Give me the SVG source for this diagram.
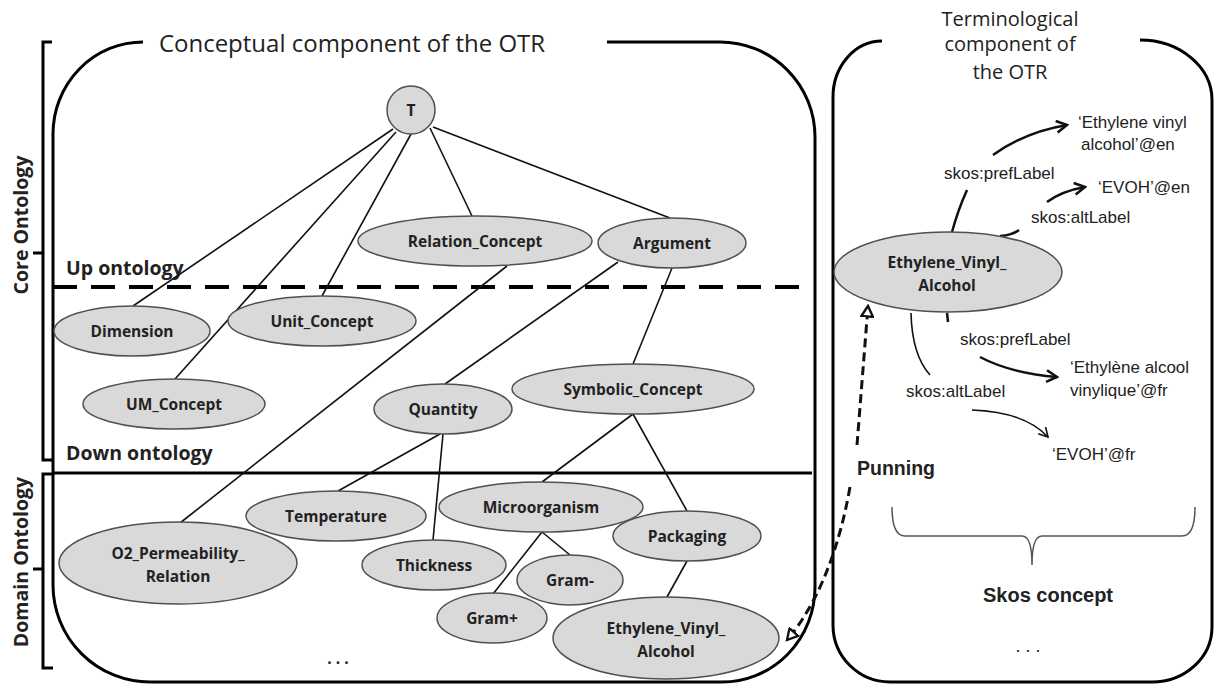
<svg xmlns="http://www.w3.org/2000/svg" width="1214" height="684" viewBox="0 0 1214 684">
<defs>
<style>
.box{fill:none;stroke:#000;stroke-width:3}
.nd{fill:#d9d9d9;stroke:#505050;stroke-width:1.5}
.nt{font-family:"Open Sans","Liberation Sans",sans-serif;font-weight:bold;font-size:15.5px;fill:#222;text-anchor:middle}
.ttl{font-family:"Open Sans","Liberation Sans",sans-serif;fill:#222}
.lvl{font-family:"Open Sans","Liberation Sans",sans-serif;font-weight:bold;font-size:19.5px;fill:#222}
.lb{font-family:"Liberation Sans",Arial,sans-serif;font-size:17px;fill:#222}
.edge{stroke:#111;stroke-width:1.6;fill:none}
.arr{stroke:#111;stroke-width:2.5;fill:none}
.pun{stroke:#111;stroke-width:3;fill:none;stroke-dasharray:9 5}
</style>
<marker id="ah" viewBox="0 0 12 12" refX="10" refY="6" markerWidth="14" markerHeight="14" markerUnits="userSpaceOnUse" orient="auto">
<path d="M1,1 L10,6 L1,11" fill="none" stroke="#111" stroke-width="2.2"/>
</marker>
<marker id="ah2" viewBox="0 0 12 12" refX="10" refY="6" markerWidth="12" markerHeight="12" markerUnits="userSpaceOnUse" orient="auto">
<path d="M1,1 L10,6 L1,11" fill="none" stroke="#111" stroke-width="1.6"/>
</marker>
<marker id="ahp" viewBox="0 0 12 12" refX="10" refY="6" markerWidth="14" markerHeight="14" markerUnits="userSpaceOnUse" orient="auto">
<path d="M1,1 L10,6 L1,11 Z" fill="#fff" stroke="#111" stroke-width="2"/>
</marker>
</defs>

<g id="frames">
<path class="box" d="M143,42 A90,92 0 0 0 53,134 L53,585 A97,97 0 0 0 150,682 L722,682 A93,95 0 0 0 815,587 L815,137 A95,95 0 0 0 720,42 L607,42"/>
<text class="ttl" x="352" y="52" font-size="24" text-anchor="middle">Conceptual component of the OTR</text>
<path class="box" d="M882,41 A49,56 0 0 0 833,97 L833,625 A57,57 0 0 0 890,682 L1152,682 A60,55 0 0 0 1212,627 L1212,100 A72,60 0 0 0 1140,40"/>
<text class="ttl" font-size="20" text-anchor="middle"><tspan x="1010" y="26">Terminological</tspan><tspan x="1010" y="51">component of</tspan><tspan x="1010" y="79">the OTR</tspan></text>
</g>

<g id="scale">
<path d="M52,42 H43 V460 H52 M43,253 H33" fill="none" stroke="#000" stroke-width="3"/>
<text class="lvl" transform="translate(28,225) rotate(-90)" text-anchor="middle" font-size="20">Core Ontology</text>
<path d="M53,474 H43 V668 H53 M43,569 H33" fill="none" stroke="#000" stroke-width="3"/>
<text class="lvl" transform="translate(28,562) rotate(-90)" text-anchor="middle" font-size="20">Domain Ontology</text>
<line x1="53" y1="287" x2="810" y2="287" stroke="#000" stroke-width="4" stroke-dasharray="24 14"/>
<line x1="53" y1="473" x2="812" y2="473" stroke="#000" stroke-width="3"/>
<text class="lvl" x="66" y="275">Up ontology</text>
<text class="lvl" x="66" y="460">Down ontology</text>
</g>

<g id="connectors">
<line class="edge" x1="393" y1="129" x2="133" y2="306"/>
<line class="edge" x1="396" y1="132" x2="175" y2="379"/>
<line class="edge" x1="411" y1="134" x2="322" y2="296"/>
<line class="edge" x1="430" y1="128" x2="472" y2="216"/>
<line class="edge" x1="433" y1="127" x2="670" y2="218"/>
<line class="edge" x1="507" y1="266" x2="180" y2="523"/>
<line class="edge" x1="618" y1="262" x2="445" y2="384"/>
<line class="edge" x1="672" y1="268" x2="633" y2="364"/>
<line class="edge" x1="440" y1="434" x2="338" y2="491"/>
<line class="edge" x1="443" y1="434" x2="433" y2="540"/>
<line class="edge" x1="633" y1="414" x2="542" y2="482"/>
<line class="edge" x1="633" y1="414" x2="687" y2="511"/>
<line class="edge" x1="542" y1="532" x2="570" y2="555"/>
<line class="edge" x1="542" y1="532" x2="493" y2="594"/>
<line class="edge" x1="687" y1="561" x2="667" y2="597"/>
<path class="arr" d="M952,232 Q958,210 967,190"/>
<path class="arr" d="M993,155 Q1025,132 1067,125" marker-end="url(#ah)"/>
<path class="arr" d="M1000,236 Q1012,235 1019,230"/>
<path class="arr" d="M1047,202 Q1062,191 1085,187" marker-end="url(#ah)"/>
<path class="arr" d="M947,313 L948,322"/>
<path class="arr" d="M980,357 Q1010,373 1057,377" marker-end="url(#ah)"/>
<path class="edge" d="M911,313 Q912,355 930,375"/>
<path class="edge" d="M972,410 Q1025,412 1048,437" marker-end="url(#ah2)"/>
<path class="pun" d="M850,487 Q838,555 812,603 Q800,625 787,640" marker-end="url(#ahp)"/>
<path class="pun" d="M857,445 L868,306" marker-end="url(#ahp)"/>
</g>

<g id="n-T"><circle class="nd" cx="411" cy="110" r="24"/><text class="nt" x="411" y="116">T</text></g>
<g id="n-relation"><ellipse class="nd" cx="475" cy="241" rx="117" ry="25"/><text class="nt" x="475" y="247">Relation_Concept</text></g>
<g id="n-argument"><ellipse class="nd" cx="672" cy="243" rx="74" ry="25"/><text class="nt" x="672" y="249">Argument</text></g>
<g id="n-dimension"><ellipse class="nd" cx="132" cy="331" rx="78" ry="25"/><text class="nt" x="132" y="337">Dimension</text></g>
<g id="n-unit"><ellipse class="nd" cx="322" cy="321" rx="94" ry="25"/><text class="nt" x="322" y="327">Unit_Concept</text></g>
<g id="n-um"><ellipse class="nd" cx="174" cy="404" rx="91" ry="25"/><text class="nt" x="174" y="410">UM_Concept</text></g>
<g id="n-quantity"><ellipse class="nd" cx="443" cy="409" rx="69" ry="25"/><text class="nt" x="443" y="415">Quantity</text></g>
<g id="n-symbolic"><ellipse class="nd" cx="633" cy="389" rx="121" ry="25"/><text class="nt" x="633" y="395">Symbolic_Concept</text></g>
<g id="n-temperature"><ellipse class="nd" cx="336" cy="516" rx="90" ry="25"/><text class="nt" x="336" y="522">Temperature</text></g>
<g id="n-o2"><ellipse class="nd" cx="178" cy="563" rx="119" ry="41"/><text class="nt"><tspan x="178" y="559">O2_Permeability_</tspan><tspan x="178" y="582">Relation</tspan></text></g>
<g id="n-thickness"><ellipse class="nd" cx="434" cy="565" rx="72" ry="25"/><text class="nt" x="434" y="571">Thickness</text></g>
<g id="n-micro"><ellipse class="nd" cx="541" cy="507" rx="102" ry="25"/><text class="nt" x="541" y="513">Microorganism</text></g>
<g id="n-packaging"><ellipse class="nd" cx="687" cy="536" rx="74" ry="25"/><text class="nt" x="687" y="542">Packaging</text></g>
<g id="n-gramminus"><ellipse class="nd" cx="570" cy="580" rx="53" ry="25"/><text class="nt" x="570" y="586">Gram-</text></g>
<g id="n-gramplus"><ellipse class="nd" cx="492" cy="618" rx="55" ry="25"/><text class="nt" x="492" y="624">Gram+</text></g>
<g id="n-evoh-left"><ellipse class="nd" cx="666" cy="638" rx="113" ry="41"/><text class="nt"><tspan x="666" y="634">Ethylene_Vinyl_</tspan><tspan x="666" y="657">Alcohol</tspan></text></g>
<g id="n-dots-left"><text class="nt" x="338" y="664" font-size="20">. . .</text></g>

<g id="n-evoh-right"><ellipse class="nd" cx="948" cy="272" rx="114" ry="40"/><text class="nt"><tspan x="947" y="268">Ethylene_Vinyl_</tspan><tspan x="947" y="291">Alcohol</tspan></text></g>
<g id="labels">
<text class="lb"><tspan x="1078" y="128">‘Ethylene vinyl</tspan><tspan x="1081" y="150">alcohol’@en</tspan></text>
<text class="lb" x="944" y="179">skos:prefLabel</text>
<text class="lb" x="1098" y="193">‘EVOH’@en</text>
<text class="lb" x="1031" y="223">skos:altLabel</text>
<text class="lb" x="960" y="345">skos:prefLabel</text>
<text class="lb"><tspan x="1070" y="373">‘Ethylène alcool</tspan><tspan x="1070" y="396">vinylique’@fr</tspan></text>
<text class="lb" x="906" y="397">skos:altLabel</text>
<text class="lb" x="1052" y="460">‘EVOH’@fr</text>
<text x="857" y="475" font-family="Liberation Sans, Arial, sans-serif" font-weight="bold" font-size="19.5" fill="#222">Punning</text>
</g>
<g id="skos">
<path d="M892,507 Q892,536 905,536 L1022,536 Q1032,536 1032,565 Q1032,536 1042,536 L1182,536 Q1195,536 1195,507" fill="none" stroke="#555" stroke-width="1.5"/>
<text x="1048" y="602" font-family="Liberation Sans, Arial, sans-serif" font-weight="bold" font-size="20" fill="#222" text-anchor="middle">Skos concept</text>
<text x="1028" y="652" font-family="Liberation Sans, Arial, sans-serif" font-size="18" fill="#222" text-anchor="middle">. . .</text>
</g>
</svg>
